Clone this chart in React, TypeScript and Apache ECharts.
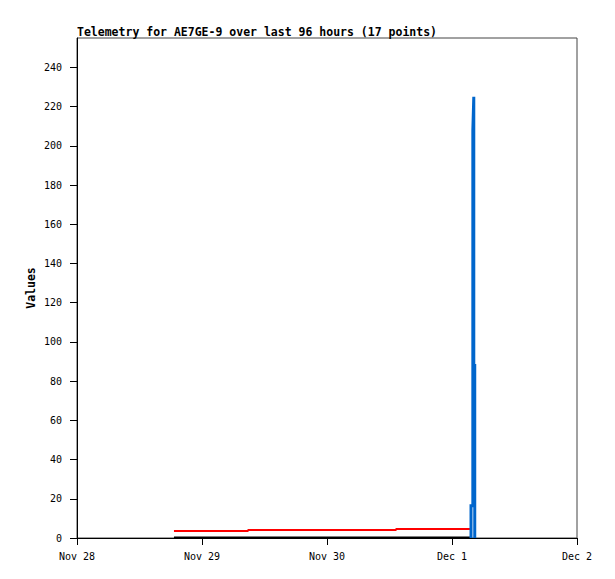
import React, { useEffect, useRef } from "react";
import * as echarts from "echarts";

const titleText = "Telemetry for AE7GE-9 over last 96 hours (17 points)";
const startTime = "2023-11-28 00:00";
const xTickLabels = ["Nov 28", "Nov 29", "Nov 30", "Dec 1", "Dec 2"];
const yTicks = [0, 20, 40, 60, 80, 100, 120, 140, 160, 180, 200, 220, 240];

const redTimes = ["2023-11-28 18:37", "2023-11-29 08:50", "2023-11-29 08:50", "2023-11-30 13:15", "2023-11-30 13:15", "2023-12-01 03:27"];
const redValues = [3.6, 3.6, 4.1, 4.1, 4.6, 4.6];

const blackTimes = ["2023-11-28 18:37", "2023-12-01 03:27"];
const blackValues = [0.25, 0.25];

const blueTimes = ["2023-12-01 03:39", "2023-12-01 03:39", "2023-12-01 04:00", "2023-12-01 04:00", "2023-12-01 04:11", "2023-12-01 04:11", "2023-12-01 04:22", "2023-12-01 04:22"];
const blueValues = [0, 16.5, 16.5, 208, 225, 88, 88, 0];

const toMin = (s: string) => {
  const [d, t] = s.split(" ");
  const [y, m, day] = d.split("-").map(Number);
  const [hh, mm] = t.split(":").map(Number);
  return Date.UTC(y, m - 1, day, hh, mm) / 60000;
};
const dayOffset = (s: string) => (toMin(s) - toMin(startTime)) / 1440;

const pair = (times: string[], vals: number[]) => times.map((t, i) => [dayOffset(t), vals[i]]);

export default function App() {
  const ref = useRef<HTMLDivElement>(null);
  useEffect(() => {
    if (!ref.current) return;
    const chart = echarts.init(ref.current, undefined, { renderer: "svg" });
    const mono = "'DejaVu Sans Mono', 'Liberation Mono', monospace";
    chart.setOption({
      animation: false,
      backgroundColor: "#ffffff",
      title: {
        text: titleText,
        left: 77,
        top: 26,
        padding: 0,
        textStyle: { fontFamily: mono, fontSize: 11.5, fontWeight: "bold", color: "#000" },
      },
      grid: {
        left: 77,
        top: 38,
        right: 38,
        bottom: 41,
        show: true,
        borderColor: "#444",
        borderWidth: 1,
        containLabel: false,
      },
      xAxis: {
        type: "value",
        min: 0,
        max: xTickLabels.length - 1,
        interval: 1,
        axisLine: { show: true, onZero: false, lineStyle: { color: "#000", width: 1 } },
        axisTick: { show: true, length: 7, inside: false, lineStyle: { color: "#000" } },
        axisLabel: {
          show: true,
          margin: 13,
          fontFamily: mono,
          fontSize: 10,
          color: "#000",
          formatter: (v: number) => xTickLabels[Math.round(v)] ?? "",
          showMinLabel: true,
          showMaxLabel: true,
        },
        splitLine: { show: false },
      },
      yAxis: {
        type: "value",
        min: 0,
        max: 255,
        interval: 20,
        name: "Values",
        nameLocation: "middle",
        nameRotate: 90,
        nameGap: 40,
        nameMoveOverlap: false,
        nameTextStyle: { fontFamily: mono, fontSize: 11.5, fontWeight: "bold", color: "#000" },
        axisLine: { show: true, onZero: false, lineStyle: { color: "#000", width: 1 } },
        axisTick: { show: true, length: 7, inside: false, lineStyle: { color: "#000" }, customValues: yTicks },
        axisLabel: {
          margin: 15,
          fontFamily: mono,
          fontSize: 10,
          color: "#000",
          customValues: yTicks,
        },
        splitLine: { show: false },
      },
      series: [
        {
          type: "line",
          data: pair(blackTimes, blackValues),
          showSymbol: false,
          lineStyle: { color: "#000000", width: 2 },
          itemStyle: { color: "#000000" },
          silent: true,
        },
        {
          type: "line",
          data: pair(redTimes, redValues),
          showSymbol: false,
          lineStyle: { color: "#ff0000", width: 2 },
          itemStyle: { color: "#ff0000" },
          silent: true,
        },
        {
          type: "line",
          data: pair(blueTimes, blueValues),
          showSymbol: false,
          lineStyle: { color: "#0066cc", width: 3, join: "miter", cap: "butt" },
          itemStyle: { color: "#0066cc" },
          silent: true,
        },
      ],
    });
    return () => chart.dispose();
  }, []);
  return (
    <div
      ref={ref}
      style={{ position: "fixed", left: 0, top: 0, width: 615, height: 579, background: "#fff" }}
    />
  );
}
